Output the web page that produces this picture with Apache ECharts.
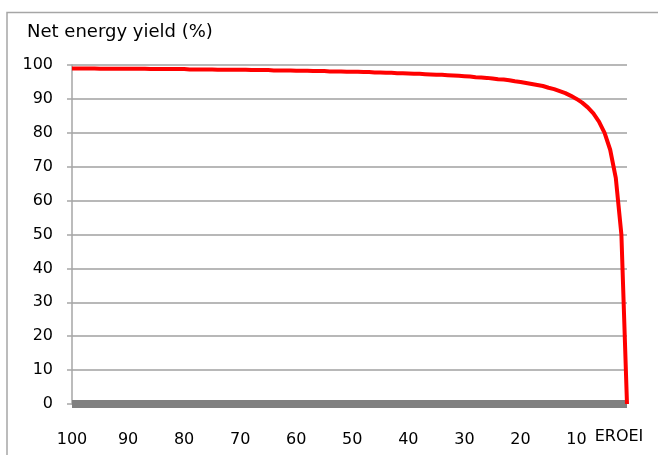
<!DOCTYPE html>
<html>
<head>
<meta charset="utf-8">
<script src="https://cdn.jsdelivr.net/npm/echarts@6/dist/echarts.min.js"></script>
<style>html,body{margin:0;padding:0;background:#fff}#c{width:658px;height:455px}</style>
</head>
<body>
<div id="c"></div>
<script>
// EROEI categories, from 100 down to 1 (left to right)
var eroei = [100,99,98,97,96,95,94,93,92,91,
             90,89,88,87,86,85,84,83,82,81,
             80,79,78,77,76,75,74,73,72,71,
             70,69,68,67,66,65,64,63,62,61,
             60,59,58,57,56,55,54,53,52,51,
             50,49,48,47,46,45,44,43,42,41,
             40,39,38,37,36,35,34,33,32,31,
             30,29,28,27,26,25,24,23,22,21,
             20,19,18,17,16,15,14,13,12,11,
             10,9,8,7,6,5,4,3,2,1];
// Net energy yield (%)
var netYield = [99.0,99.0,99.0,99.0,99.0,98.9,98.9,98.9,98.9,98.9,
                98.9,98.9,98.9,98.9,98.8,98.8,98.8,98.8,98.8,98.8,
                98.8,98.7,98.7,98.7,98.7,98.7,98.6,98.6,98.6,98.6,
                98.6,98.6,98.5,98.5,98.5,98.5,98.4,98.4,98.4,98.4,
                98.3,98.3,98.3,98.2,98.2,98.2,98.1,98.1,98.1,98.0,
                98.0,98.0,97.9,97.9,97.8,97.8,97.7,97.7,97.6,97.6,
                97.5,97.4,97.4,97.3,97.2,97.1,97.1,97.0,96.9,96.8,
                96.7,96.6,96.4,96.3,96.2,96.0,95.8,95.7,95.5,95.2,
                95.0,94.7,94.4,94.1,93.8,93.3,92.9,92.3,91.7,90.9,
                90.0,88.9,87.5,85.7,83.3,80.0,75.0,66.7,50.0,0];
var yTicks = {min: 0, max: 100, interval: 10};
var titleText = 'Net energy yield (%)';
var xName = 'EROEI';

var chart = echarts.init(document.getElementById('c'), null, {renderer: 'canvas'});
var font = 'DejaVu Sans';
chart.setOption({
  animation: false,
  backgroundColor: '#ffffff',
  title: {
    text: titleText,
    left: 27, top: 23,
    padding: 0,
    textStyle: {fontFamily: font, fontSize: 18, fontWeight: 'normal', color: '#000'}
  },
  graphic: [{
    type: 'rect', silent: true, z: -1,
    shape: {x: 7, y: 12.5, width: 700, height: 500},
    style: {fill: 'none', stroke: '#a6a6a6', lineWidth: 1.5}
  }],
  grid: {left: 72, right: 31, top: 65, bottom: 51, containLabel: false},
  xAxis: {
    type: 'category',
    data: eroei,
    boundaryGap: false,
    offset: 3,
    name: xName,
    nameLocation: 'end',
    nameGap: -8,
    nameTextStyle: {fontFamily: font, fontSize: 16, color: '#000', align: 'center', verticalAlign: 'top', padding: [25, 0, 0, 0]},
    axisLine: {show: true, lineStyle: {color: '#808080', width: 8, cap: 'butt'}},
    axisTick: {show: false},
    splitLine: {show: false},
    axisLabel: {
      interval: function (i, v) { return Number(v) % 10 === 0; },
      margin: 25,
      fontFamily: font, fontSize: 16, color: '#000'
    }
  },
  yAxis: {
    type: 'value',
    min: yTicks.min, max: yTicks.max, interval: yTicks.interval,
    axisLine: {show: true, lineStyle: {color: '#a6a6a6', width: 1.5}},
    axisTick: {show: true, inside: false, length: 5, lineStyle: {color: '#a6a6a6', width: 1.5}},
    splitLine: {show: true, lineStyle: {color: '#a0a0a0', width: 1.5}},
    axisLabel: {margin: 19, fontFamily: font, fontSize: 16, color: '#000'}
  },
  series: [{
    type: 'line',
    data: netYield,
    showSymbol: false,
    symbol: 'none',
    smooth: false,
    lineStyle: {color: '#ff0000', width: 4, join: 'round'},
    z: 5
  }]
});
</script>
</body>
</html>
